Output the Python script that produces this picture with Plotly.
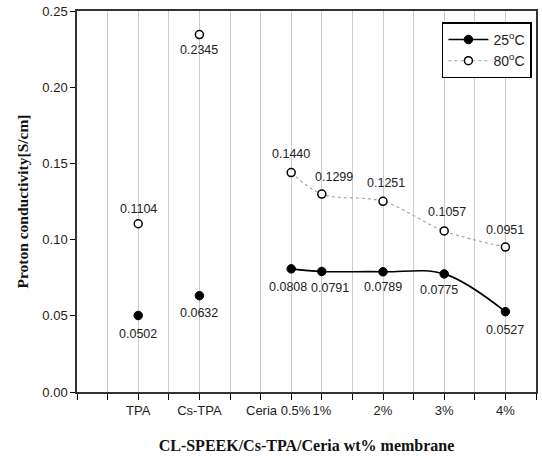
import plotly.graph_objects as go

# category positions on the x axis (integer slots) and labels
cat_labels = ["TPA", "Cs-TPA", "Ceria 0.5%", "1%", "2%", "3%", "4%"]
cat_pos = [2, 4, 7, 8, 10, 12, 14]

t25 = [0.0502, 0.0632, 0.0808, 0.0791, 0.0789, 0.0775, 0.0527]
t80 = [0.1104, 0.2345, 0.1440, 0.1299, 0.1251, 0.1057, 0.0951]

# label placement styles (pixel offsets from each marker)
lab25_dx = [0, 0, -3, 8, 0, -5, 0]
lab25_dy = [-18, -17, -18, -17, -15, -16, -18]
lab80_dx = [0, 0, 0, 12, 3, 3, 0]
lab80_dy = [15, -15, 19, 17, 18, 19, 17]

FONT = "Liberation Sans, Arial"
SERIF = "Liberation Serif, Times New Roman"


def gapped(vals):
    xs = [cat_pos[0], None, cat_pos[1], None] + cat_pos[2:]
    ys = [vals[0], None, vals[1], None] + vals[2:]
    return xs, ys


fig = go.Figure()
x25, y25 = gapped(t25)
x80, y80 = gapped(t80)

fig.add_trace(go.Scatter(
    x=x80, y=y80, mode="lines+markers", name="80<sup>o</sup>C",
    line=dict(color="#a0a0a0", width=1.1, dash="dot", shape="spline"),
    marker=dict(symbol="circle", size=8, color="white", line=dict(color="black", width=1.5)),
    connectgaps=False,
))
fig.add_trace(go.Scatter(
    x=x25, y=y25, mode="lines+markers", name="25<sup>o</sup>C",
    line=dict(color="black", width=1.6, shape="spline"),
    marker=dict(symbol="circle", size=8.5, color="black", line=dict(color="black", width=1)),
    connectgaps=False,
))

for xs, ys, dxs, dys in ((cat_pos, t25, lab25_dx, lab25_dy), (cat_pos, t80, lab80_dx, lab80_dy)):
    for xv, yv, dx, dy in zip(xs, ys, dxs, dys):
        fig.add_annotation(x=xv, y=yv, text=f"{yv:.4f}", showarrow=False,
                           xshift=dx, yshift=dy, yanchor="middle",
                           font=dict(size=12.5, color="#222", family=FONT))

tick_pos = [p for p, l in zip(cat_pos, cat_labels) if l != "Ceria 0.5%"]
tick_txt = [l for l in cat_labels if l != "Ceria 0.5%"]

fig.add_annotation(x=6.6, y=0, xref="x", yref="paper", yshift=-18, yanchor="middle",
                   text="Ceria 0.5%", showarrow=False,
                   font=dict(size=13, color="#222", family=FONT))

fig.update_layout(
    width=542, height=460,
    margin=dict(l=77, r=4, t=11, b=68),
    paper_bgcolor="white", plot_bgcolor="white",
    font=dict(family=FONT, size=13, color="#222"),
    showlegend=True,
    legend=dict(x=0.795, y=0.97, xanchor="left", yanchor="top",
                bordercolor="black", borderwidth=1.5, bgcolor="white",
                font=dict(size=14, color="#222", family=FONT),
                traceorder="reversed", itemwidth=40, tracegroupgap=0),
    xaxis=dict(
        range=[0, 15], tickmode="array", tickvals=tick_pos, ticktext=tick_txt,
        ticks="outside", ticklen=6, tickcolor="black", tickwidth=1,
        tickfont=dict(size=13),
        showgrid=True, gridcolor="#cccccc", gridwidth=1,
        minor=dict(tick0=0, dtick=1, ticks="outside", ticklen=6, tickcolor="black",
                   showgrid=True, gridcolor="#cccccc", gridwidth=1),
        showline=True, linecolor="#333", linewidth=1.5, mirror=True,
        zeroline=False,
        title=dict(text="<b>CL-SPEEK/Cs-TPA/Ceria wt% membrane</b>", standoff=22,
                   font=dict(family=SERIF, size=16, color="#111")),
    ),
    yaxis=dict(
        range=[0, 0.25], tickvals=[0, 0.05, 0.10, 0.15, 0.20, 0.25], tickformat=".2f",
        ticks="outside", ticklen=5, tickcolor="black",
        tickfont=dict(size=13),
        showgrid=False, zeroline=False,
        showline=True, linecolor="#333", linewidth=1.5, mirror=True,
        title=dict(text="<b>Proton conductivity[S/cm]</b>", standoff=10,
                   font=dict(family=SERIF, size=15.5, color="#111")),
    ),
)

fig.write_html("out.html")
